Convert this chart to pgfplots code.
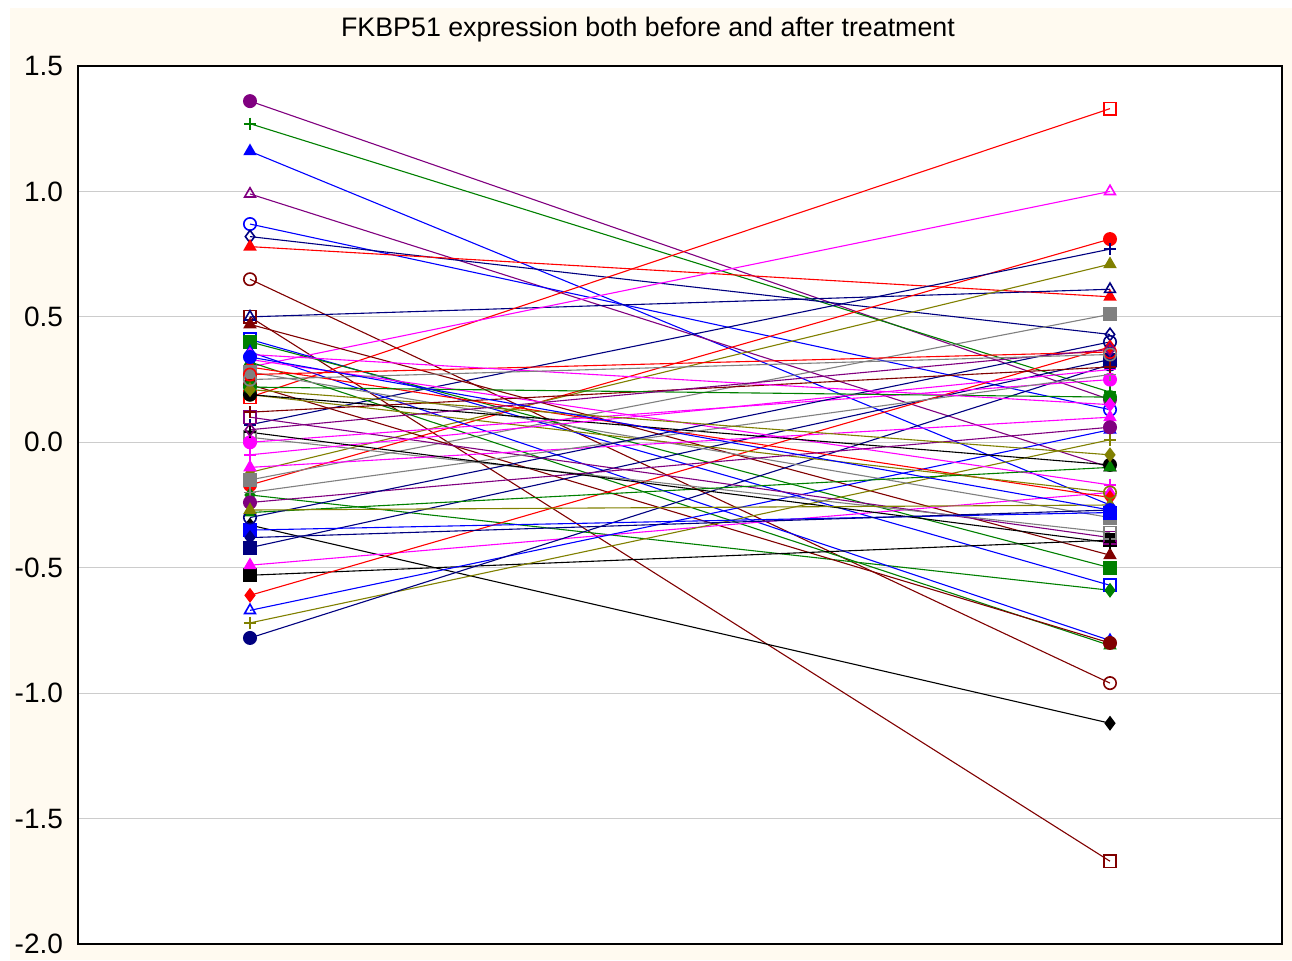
\documentclass[border=0pt]{standalone}
\usepackage{pgfplots}
\pgfplotsset{compat=1.18}
\usepackage{fontspec}
\setmainfont{Liberation Sans}

\definecolor{cream}{RGB}{255,250,240}
\definecolor{sred}{RGB}{255,0,0}
\definecolor{sblue}{RGB}{0,0,255}
\definecolor{sgreen}{RGB}{0,128,0}
\definecolor{smag}{RGB}{255,0,255}
\definecolor{spurple}{RGB}{128,0,128}
\definecolor{snavy}{RGB}{0,0,128}
\definecolor{sbrown}{RGB}{128,0,0}
\definecolor{solive}{RGB}{128,128,0}
\definecolor{sgray}{RGB}{128,128,128}
\definecolor{sblack}{RGB}{0,0,0}

% one subject: colour, mark, before, after
\newcommand{\subj}[4]{\addplot[color=#1, line width=0.55pt, mark=#2,
  mark options={solid, line width=0.8pt}] coordinates {(0,#3) (1,#4)};}

\begin{document}
\begin{tikzpicture}
\path[use as bounding box] (-39pt,-8pt) rectangle (607pt,472pt);
\fill[cream] (-34pt,-8pt) rectangle (607pt,468pt);
\node[font=\fontsize{13.4}{15}\selectfont] at (285pt,457pt) {FKBP51 expression both before and after treatment};
\begin{axis}[
    at={(0,0)}, anchor=south west,
    scale only axis,
    width=602pt, height=439pt,
    xmin=-0.2, xmax=1.2,
    ymin=-2, ymax=1.5,
    xtick=\empty,
    ytick={-2,-1.5,...,1.5},
    /pgf/number format/fixed,
    /pgf/number format/fixed zerofill,
    /pgf/number format/precision=1,
    /pgf/number format/assume math mode=true,
    ticklabel style={font=\fontsize{14}{16}\selectfont},
    yticklabel style={xshift=-4pt},
    major tick length=0pt,
    ymajorgrids,
    grid style={color=black!20, line width=0.5pt},
    axis background/.style={fill=white},
    axis line style={line width=0.6pt},
    mark size=3.1pt,
    clip=false,
]
\subj{spurple}{*}{1.36}{0.17}
\subj{sgreen}{+}{1.27}{0.20}
\subj{sblue}{triangle*}{1.16}{-0.25}
\subj{spurple}{triangle}{0.99}{-0.10}
\subj{sblue}{o}{0.87}{0.13}
\subj{snavy}{diamond}{0.82}{0.43}
\subj{sred}{triangle*}{0.78}{0.58}
\subj{sbrown}{o}{0.65}{-0.96}
\subj{sbrown}{square}{0.50}{-1.67}
\subj{snavy}{triangle}{0.50}{0.61}
\subj{sred}{square}{0.18}{1.33}
\subj{smag}{triangle}{0.30}{1.00}
\subj{sred}{*}{-0.17}{0.81}
\subj{snavy}{+}{0.07}{0.77}
\subj{solive}{triangle*}{-0.12}{0.71}
\subj{sgray}{square*}{-0.15}{0.51}
\subj{sbrown}{triangle*}{0.47}{-0.45}
\subj{sblue}{square}{0.41}{-0.57}
\subj{sgreen}{diamond*}{-0.21}{-0.59}
\subj{sgreen}{square*}{0.40}{-0.50}
\subj{sblue}{triangle}{0.36}{-0.79}
\subj{sgreen}{triangle*}{0.32}{-0.81}
\subj{sbrown}{*}{0.23}{-0.80}
\subj{sblack}{diamond*}{-0.33}{-1.12}
\subj{sblack}{square*}{-0.53}{-0.39}
\subj{smag}{triangle*}{-0.49}{-0.20}
\subj{sblue}{triangle}{-0.67}{0.05}
\subj{solive}{+}{-0.72}{0.01}
\subj{snavy}{*}{-0.78}{0.31}
\subj{snavy}{square*}{-0.42}{0.33}
\subj{sred}{diamond*}{-0.61}{0.38}
\subj{smag}{+}{0.33}{-0.17}
\subj{sred}{diamond*}{0.30}{-0.22}
\subj{sgray}{square*}{0.28}{-0.30}
\subj{solive}{o}{0.19}{-0.20}
\subj{sblack}{*}{0.19}{-0.09}
\subj{spurple}{square}{0.10}{-0.38}
\subj{sgray}{square}{0.02}{-0.36}
\subj{smag}{*}{0.00}{0.25}
\subj{smag}{triangle*}{-0.10}{0.10}
\subj{sgray}{+}{-0.20}{0.27}
\subj{spurple}{*}{-0.24}{0.06}
\subj{sgreen}{triangle*}{-0.28}{-0.10}
\subj{sblue}{square*}{-0.35}{-0.28}
\subj{snavy}{o}{-0.30}{0.40}
\subj{smag}{+}{-0.05}{0.29}
\subj{sblack}{+}{0.04}{-0.40}
\subj{solive}{triangle*}{-0.27}{-0.25}
\subj{snavy}{diamond*}{-0.38}{-0.27}
\subj{sbrown}{+}{0.12}{0.30}
\subj{sgreen}{*}{0.22}{0.18}
\subj{sred}{o}{0.27}{0.36}
\subj{smag}{diamond*}{0.35}{0.15}
\subj{solive}{diamond*}{0.21}{-0.05}
\subj{spurple}{diamond}{0.05}{0.37}
\subj{sgray}{o}{0.25}{0.35}
\subj{sblue}{*}{0.34}{-0.27}
\end{axis}
\end{tikzpicture}
\end{document}
